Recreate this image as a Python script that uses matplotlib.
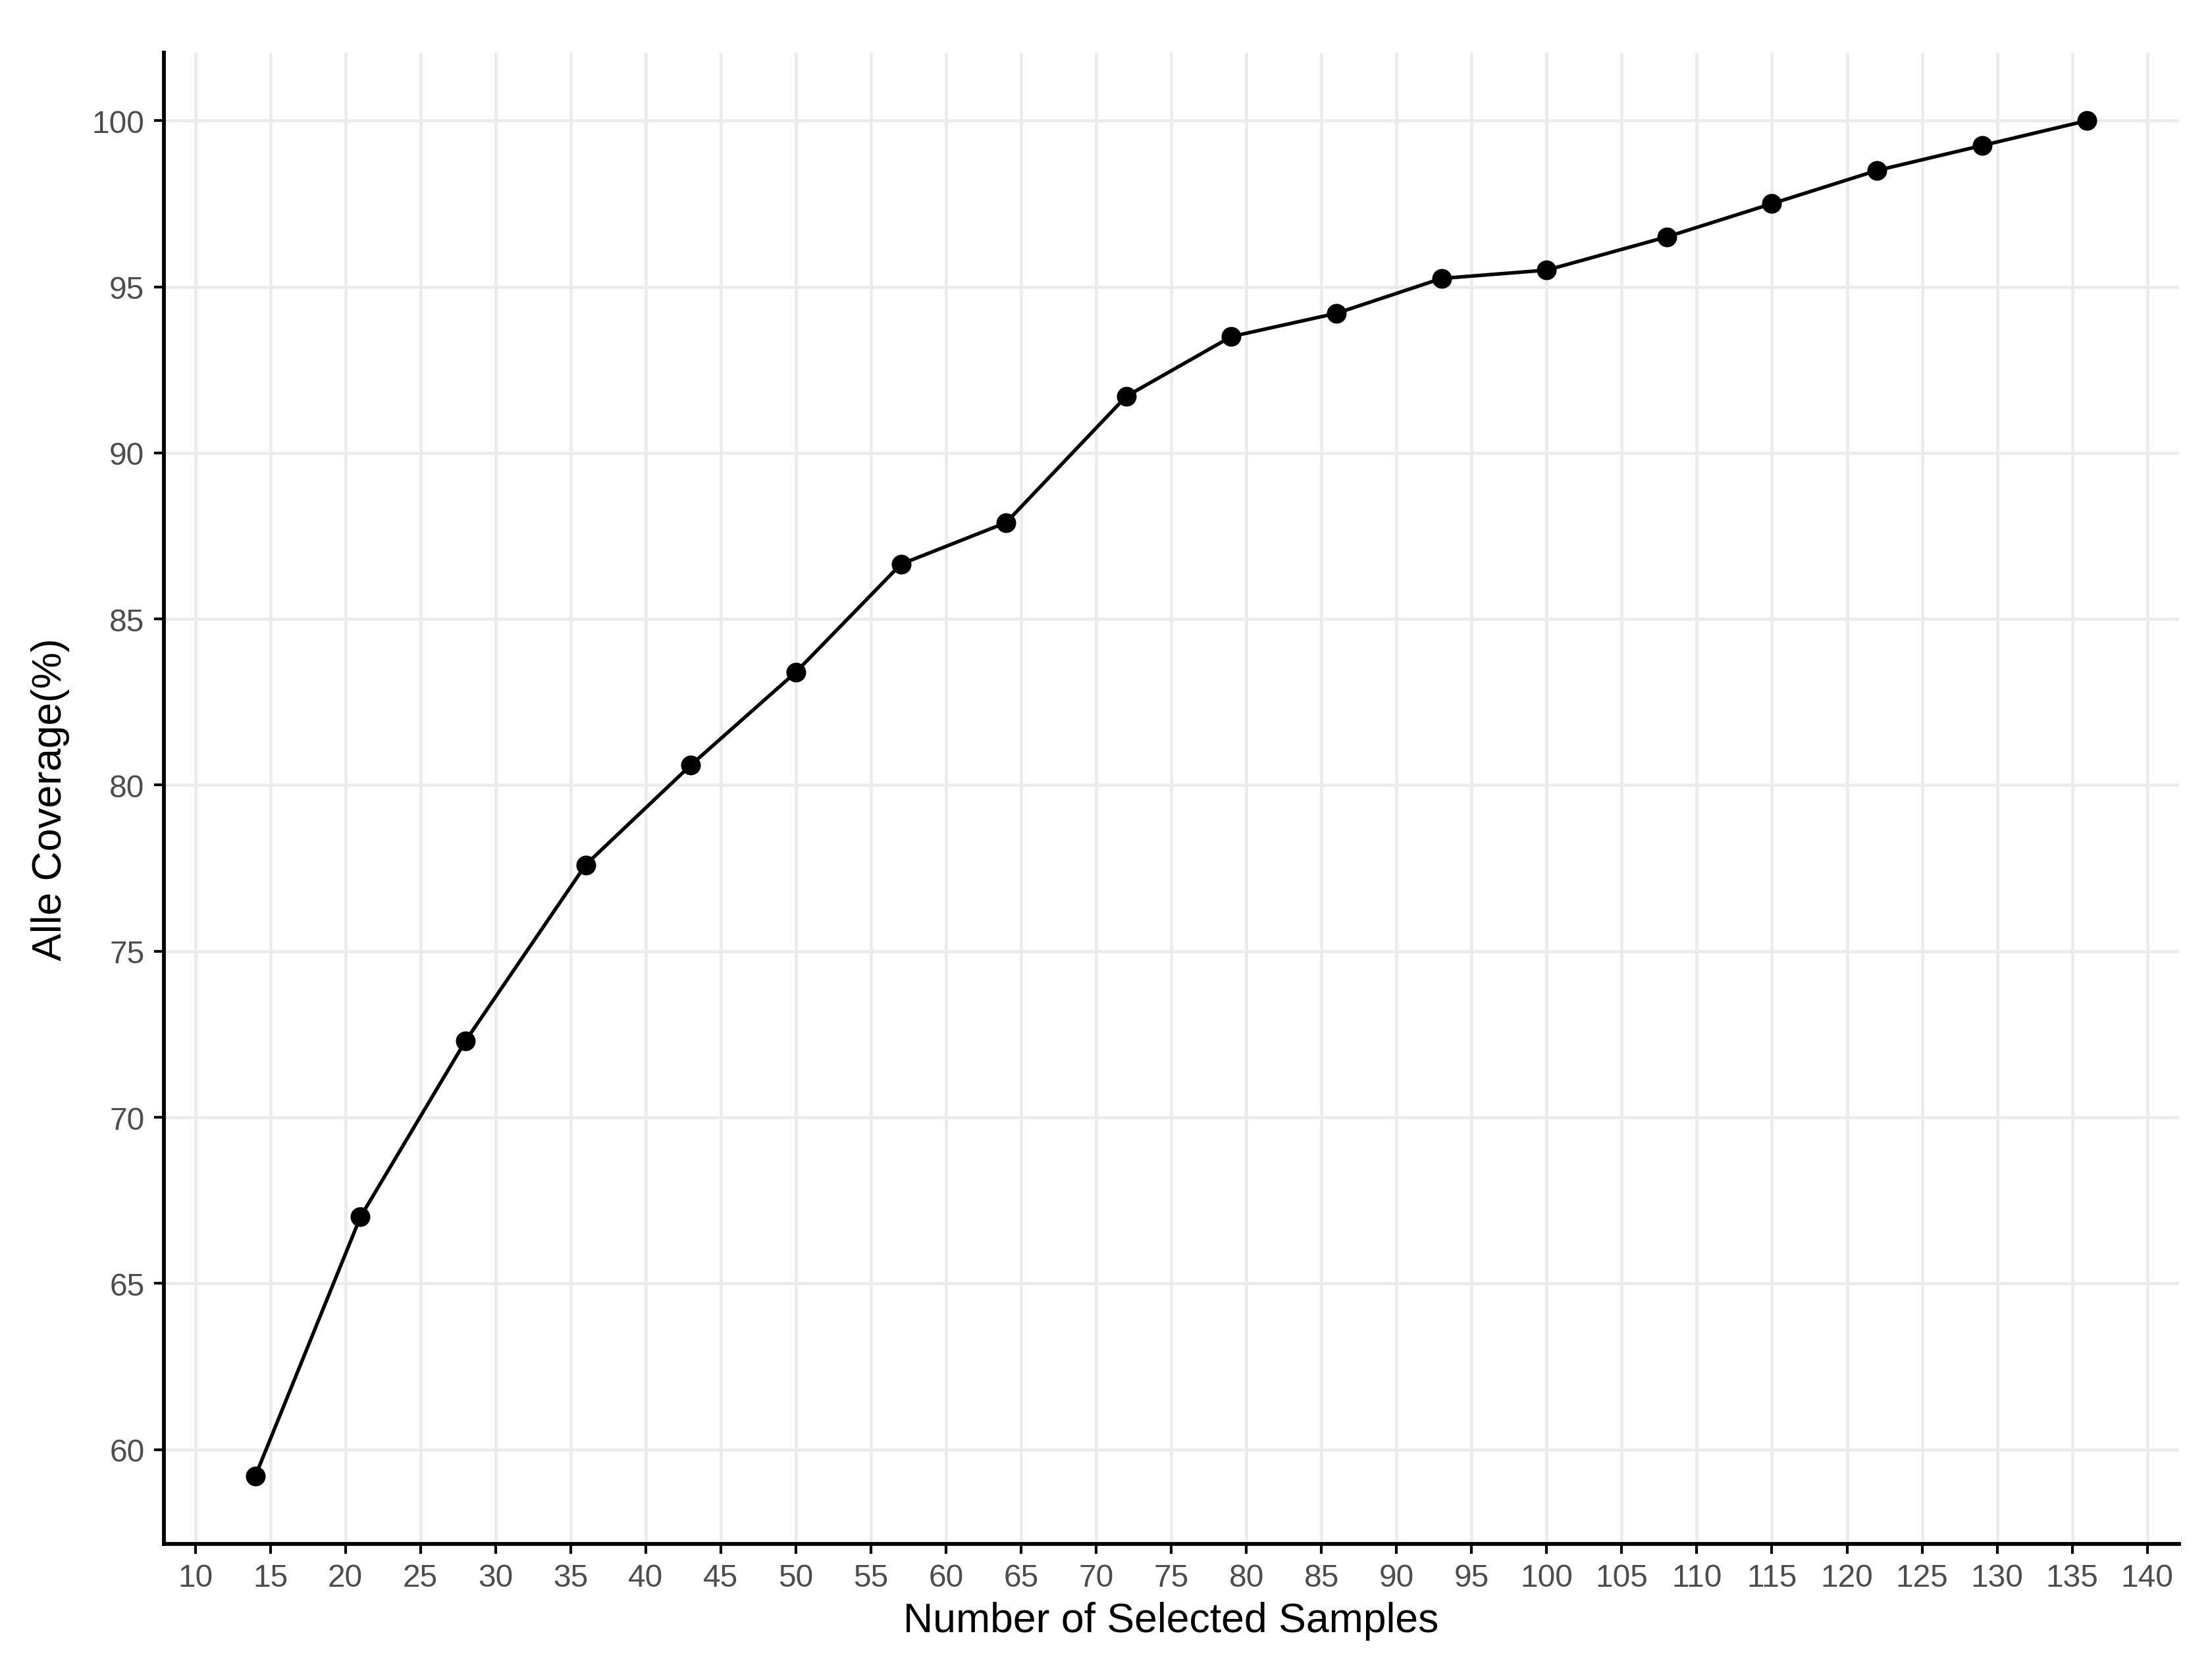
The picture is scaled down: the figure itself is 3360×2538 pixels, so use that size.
import matplotlib
matplotlib.use("Agg")
import matplotlib.pyplot as plt

samples = [14, 21, 28, 36, 43, 50, 57, 64, 72, 79, 86, 93, 100, 108, 115, 122, 129, 136]
coverage = [59.2, 67.0, 72.3, 77.6, 80.6, 83.4, 86.65, 87.9, 91.7, 93.5, 94.2, 95.25, 95.5, 96.5, 97.5, 98.5, 99.25, 100.0]
x_ticks = list(range(10, 145, 5))
y_ticks = [60, 65, 70, 75, 80, 85, 90, 95, 100]

plt.rcParams['font.family'] = ['Liberation Sans', 'DejaVu Sans']

fig = plt.figure(figsize=(11.2, 8.4633), dpi=300)
ax = fig.add_axes([0.074, 0.076, 0.911, 0.892])

ax.plot(samples, coverage, color='black', linewidth=1.3, marker='o', markersize=6.2, zorder=3)

ax.set_xlim(7.9, 142.1)
ax.set_ylim(57.16, 102.04)
ax.set_xticks(x_ticks)
ax.set_yticks(y_ticks)
ax.grid(True, color='#EBEBEB', linewidth=1.1, zorder=0)
ax.set_axisbelow(True)

for s in ['top', 'right']:
    ax.spines[s].set_visible(False)
for s in ['left', 'bottom']:
    ax.spines[s].set_linewidth(1.4)
    ax.spines[s].set_color('black')

ax.tick_params(axis='both', colors='black', labelcolor='#4D4D4D', labelsize=11.5,
               length=3.5, width=1.0, pad=3.5)

ax.set_xlabel('Number of Selected Samples', fontsize=15, color='black', labelpad=3)
ax.set_ylabel('Alle Coverage(%)', fontsize=15, color='black', labelpad=8)

fig.savefig('out.png', dpi=300, facecolor='white')
